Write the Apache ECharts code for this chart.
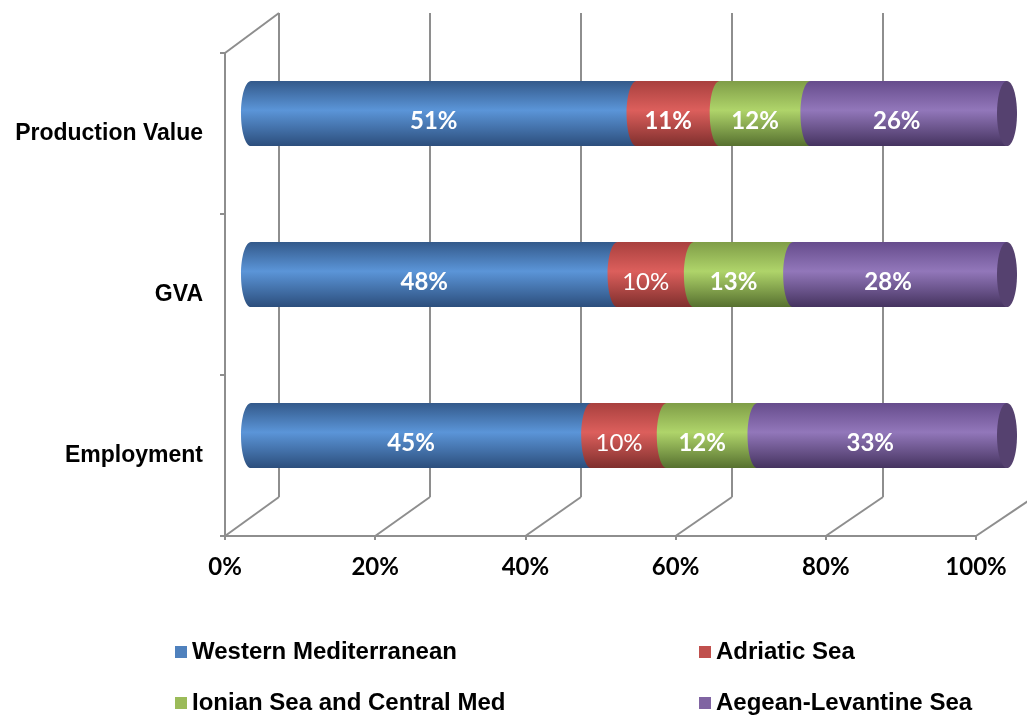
<!DOCTYPE html>
<html>
<head>
<meta charset="utf-8">
<script src="https://cdn.jsdelivr.net/npm/echarts@6/dist/echarts.min.js"></script>
<style>
  html, body { margin: 0; padding: 0; background: #fff; }
  #chart { width: 1027px; height: 718px; }
</style>
</head>
<body>
<div id="chart"></div>
<script>
// data (share of each sea basin, in %)
const categories = ['Employment', 'GVA', 'Production Value'];
const regions = ['Western Mediterranean', 'Adriatic Sea', 'Ionian Sea and Central Med', 'Aegean-Levantine Sea'];
const western = [45, 48, 51];
const adriatic = [10, 10, 11];
const ionian = [12, 13, 12];
const aegean = [33, 28, 26];
const xTicks = [0, 20, 40, 60, 80, 100];

const values = [western, adriatic, ionian, aegean];

// look
const GRAY = '#8e8e8e';
const solid = ['#4f81bd', '#c0504d', '#9bbb59', '#8064a2'];
const shades = [
  ['#33598a', '#5b95d8', '#2c4e7c'],
  ['#a8403e', '#dc5f5c', '#7f2f2d'],
  ['#7f9d47', '#afd46a', '#56702f'],
  ['#664c8c', '#9277ba', '#45335f']
];
const CAP = '#55416f';

// 3d frame: front plane, back wall (its 100% line falls off the page,
// so the wall axis only runs to 80), and the bars sit in between
const FRONT = { left: 225, top: 53, width: 751, height: 483 };
const BACK = { left: 279, top: 13, width: 604, height: 484 };
const MID = { left: 251, top: 33, width: 756, height: 483 };

const chart = echarts.init(document.getElementById('chart'));

// 100% stack: start / end of every segment
const totals = categories.map((c, i) => values.reduce((s, arr) => s + arr[i], 0));
const stacked = values.map((arr, s) => arr.map((v, i) => {
  let before = 0;
  for (let k = 0; k < s; k++) before += values[k][i];
  return [i, before / totals[i] * 100, (before + v) / totals[i] * 100, v];
}));

function grad(s) {
  return new echarts.graphic.LinearGradient(0, 0, 0, 1, [
    { offset: 0, color: shades[s][0] },
    { offset: 0.45, color: shades[s][1] },
    { offset: 1, color: shades[s][2] }
  ]);
}

function cylinder(s) {
  return function (params, api) {
    const cat = api.value(0);
    const p0 = api.coord([api.value(1), cat]);
    const p1 = api.coord([api.value(2), cat]);
    const h = api.size([0, 1])[1] * 0.405;
    const rx = 10;
    const top = p0[1] - h / 2;
    const val = api.value(3);
    const last = s === values.length - 1;
    const children = [
      { type: 'rect', shape: { x: p0[0], y: top, width: p1[0] - p0[0], height: h }, style: { fill: grad(s) } },
      { type: 'ellipse', shape: { cx: p0[0], cy: p0[1], rx: rx, ry: h / 2 }, style: { fill: grad(s) } }
    ];
    if (last) {
      children.push({ type: 'ellipse', shape: { cx: p1[0], cy: p1[1], rx: rx, ry: h / 2 },
        style: { fill: CAP } });
    }
    children.push({
      type: 'text',
      style: {
        text: val + '%',
        x: (p0[0] + p1[0]) / 2 - (last ? 12 : 10),
        y: p0[1] + 8,
        align: 'center',
        verticalAlign: 'middle',
        fill: '#fff',
        fontFamily: 'Lato',
        fontWeight: val === 10 ? 'normal' : 'bold',
        fontSize: 24
      }
    });
    return { type: 'group', children: children };
  };
}

const legendPos = [
  { left: 175, top: 640 },
  { left: 699, top: 640 },
  { left: 175, top: 691 },
  { left: 699, top: 691 }
];

const option = {
  animation: false,
  color: solid,
  grid: [
    Object.assign({ containLabel: false }, FRONT),
    Object.assign({ containLabel: false }, BACK),
    Object.assign({ containLabel: false }, MID)
  ],
  legend: regions.map((r, i) => ({
    data: [r],
    left: legendPos[i].left,
    top: legendPos[i].top,
    padding: 0,
    icon: 'rect',
    itemWidth: 12,
    itemHeight: 12,
    itemGap: 0,
    selectedMode: false,
    textStyle: { fontFamily: 'Liberation Sans', fontWeight: 'bold', fontSize: 24, color: '#000', padding: [0, 0, 0, 0] }
  })),
  xAxis: [
    {
      gridIndex: 0, type: 'value', min: 0, max: 100, interval: 20,
      axisLine: { show: true, lineStyle: { color: GRAY, width: 2 } },
      axisTick: { show: true, length: 4, lineStyle: { color: GRAY, width: 2 } },
      splitLine: { show: false },
      axisLabel: { formatter: '{value}%', fontFamily: 'Lato', fontWeight: 'bold', fontSize: 24, color: '#000', margin: 19 }
    },
    {
      gridIndex: 1, type: 'value', min: 0, max: 80, interval: 20,
      axisLine: { show: false }, axisTick: { show: false }, axisLabel: { show: false },
      splitLine: { show: true, lineStyle: { color: GRAY, width: 2 } }
    },
    { gridIndex: 2, type: 'value', min: 0, max: 100, show: false }
  ],
  yAxis: [
    {
      gridIndex: 0, type: 'category', data: categories,
      axisLine: { show: true, lineStyle: { color: GRAY, width: 2 } },
      axisTick: { show: true, length: 5, lineStyle: { color: GRAY, width: 2 } },
      axisLabel: { fontFamily: 'Liberation Sans', fontWeight: 'bold', fontSize: 23, color: '#000', margin: 22 },
      splitLine: { show: false }
    },
    { gridIndex: 1, type: 'category', data: categories, show: false },
    { gridIndex: 2, type: 'category', data: categories, show: false }
  ],
  series: regions.map((r, s) => ({
    name: r,
    type: 'custom',
    xAxisIndex: 2,
    yAxisIndex: 2,
    itemStyle: { color: solid[s] },
    encode: { x: [1, 2], y: 0 },
    renderItem: cylinder(s),
    data: stacked[s]
  }))
};

chart.setOption(option);

// floor and side-wall diagonals joining the front plane to the back wall
const frontBottom = FRONT.top + FRONT.height;
const backBottom = BACK.top + BACK.height;
const diag = xTicks.map(v => {
  const xf = chart.convertToPixel({ xAxisIndex: 0 }, v);
  const xb = chart.convertToPixel({ xAxisIndex: 1 }, v);
  return {
    type: 'line', z: 1, silent: true,
    shape: { x1: xf, y1: frontBottom, x2: xb, y2: backBottom },
    style: { stroke: GRAY, lineWidth: 2 }
  };
});
diag.push({
  type: 'line', z: 1, silent: true,
  shape: { x1: FRONT.left, y1: FRONT.top, x2: BACK.left, y2: BACK.top },
  style: { stroke: GRAY, lineWidth: 2 }
});
chart.setOption({ graphic: diag });
</script>
</body>
</html>
